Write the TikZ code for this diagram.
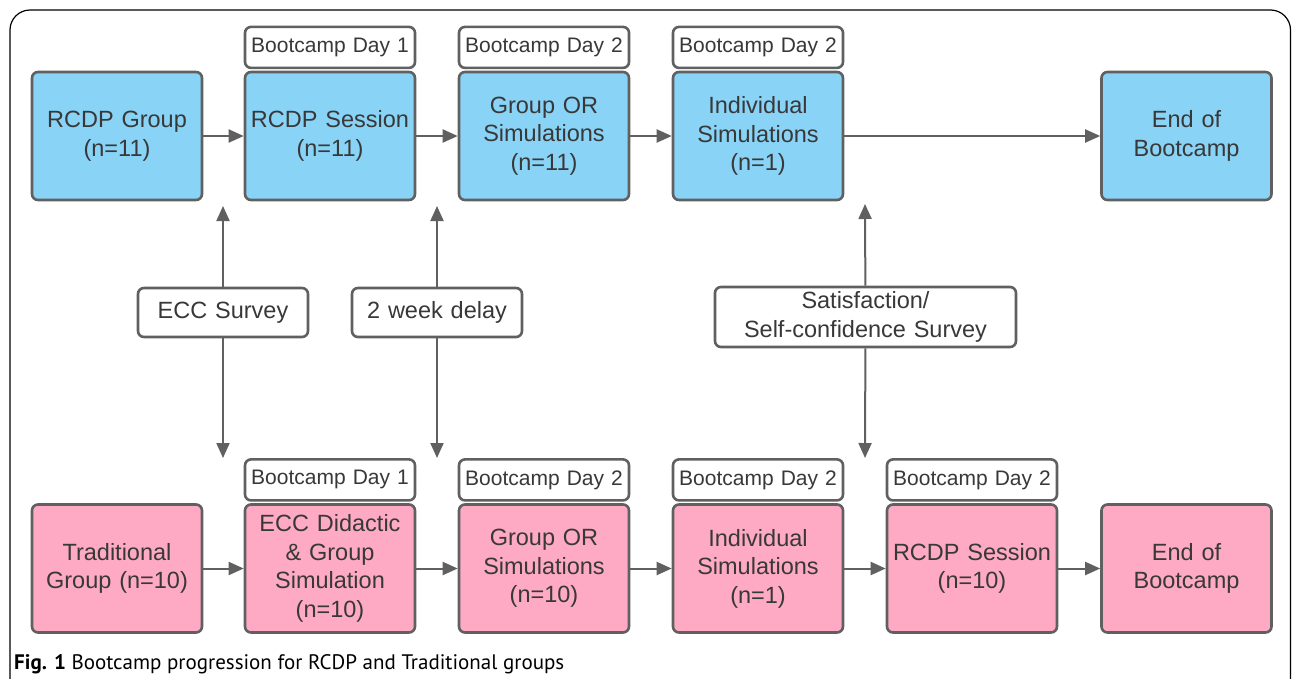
\documentclass[tikz,border=0pt]{standalone}
\usepackage{fontspec}
\setmainfont{Liberation Sans}
\newfontfamily\capfont{PT Sans}
\usetikzlibrary{arrows.meta,positioning}
\definecolor{rcdpblue}{HTML}{88D3F6}
\definecolor{tradpink}{HTML}{FEAAC4}
\definecolor{edgegray}{HTML}{606060}
\definecolor{txtgray}{HTML}{383838}
\tikzset{
  stage/.style={draw=edgegray, line width=2.6pt, rounded corners=6pt, minimum width=170pt,
    minimum height=128pt, text width=165pt, align=center, text=txtgray, inner sep=0pt,
    font=\fontsize{23.5}{28.5}\selectfont},
  rcdp/.style={stage, fill=rcdpblue},
  trad/.style={stage, fill=tradpink},
  daytag/.style={stage, fill=white, minimum height=41pt, font=\fontsize{21}{25}\selectfont},
  survey/.style={stage, fill=white, minimum height=49pt},
  flow/.style={draw=edgegray, line width=2pt, -{Triangle[length=15pt,width=13pt]}},
}

\begin{document}
\begin{tikzpicture}[x=1pt,y=-1pt]
\useasboundingbox (0,0) rectangle (1292,678);
\draw[black, line width=1.2pt, rounded corners=20pt] (10,10) rectangle (1290.5,740);
% RCDP group
\node[rcdp] (g1) at (117,136) {RCDP Group\\(n=11)};
\node[rcdp] (g2) at (330,136) {RCDP Session\\(n=11)};
\node[rcdp] (g3) at (544,136) {Group OR\\Simulations\\(n=11)};
\node[rcdp] (g4) at (758,136) {Individual\\Simulations\\(n=1)};
\node[rcdp] (g5) at (1186.5,136) {End of\\Bootcamp};
\node[daytag, above=1.5pt of g2] (gd2) {Bootcamp Day 1};
\node[daytag, above=1.5pt of g3] (gd3) {Bootcamp Day 2};
\node[daytag, above=1.5pt of g4] (gd4) {Bootcamp Day 2};
% Traditional group
\node[trad] (t1) at (117,568.5) {Traditional\\Group (n=10)};
\node[trad] (t2) at (330,568.5) {ECC Didactic\\\& Group\\Simulation\\(n=10)};
\node[trad] (t3) at (544,568.5) {Group OR\\Simulations\\(n=10)};
\node[trad] (t4) at (758,568.5) {Individual\\Simulations\\(n=1)};
\node[trad] (t5) at (972,568.5) {RCDP Session\\(n=10)};
\node[trad] (t6) at (1186.5,568.5) {End of\\Bootcamp};
\node[daytag, above=1.5pt of t2] (td2) {Bootcamp Day 1};
\node[daytag, above=1.5pt of t3] (td3) {Bootcamp Day 2};
\node[daytag, above=1.5pt of t4] (td4) {Bootcamp Day 2};
\node[daytag, above=1.5pt of t5] (td5) {Bootcamp Day 2};
% surveys
\node[survey] (ecc) at (223,312.5) {ECC Survey};
\node[survey] (delay) at (437,312.5) {2 week delay};
\node[survey, minimum width=301pt, minimum height=60pt, text width=295pt] (sat) at (865.5,317)
  {Satisfaction/\\Self-confidence Survey};
\coordinate (eccUp) at (223,206);
\coordinate (eccDn) at (223,458);
\coordinate (delayUp) at (437,206);
\coordinate (delayDn) at (437,458);
\coordinate (satUp) at (865,204);
\coordinate (satDn) at (865,458);
% connectors
\foreach \a/\b in {g1/g2,g2/g3,g3/g4,g4/g5,t1/t2,t2/t3,t3/t4,t4/t5,t5/t6}
  \draw[flow] (\a) -- (\b);
\foreach \s in {ecc,delay,sat} {
  \draw[flow] (\s) -- (\s Up);
  \draw[flow] (\s) -- (\s Dn);
}
\node[anchor=base west, inner sep=0pt] (caption) at (14,669)
  {\capfont\fontsize{21}{24}\selectfont\textbf{Fig. 1} Bootcamp progression for RCDP and Traditional groups};
\end{tikzpicture}
\end{document}
